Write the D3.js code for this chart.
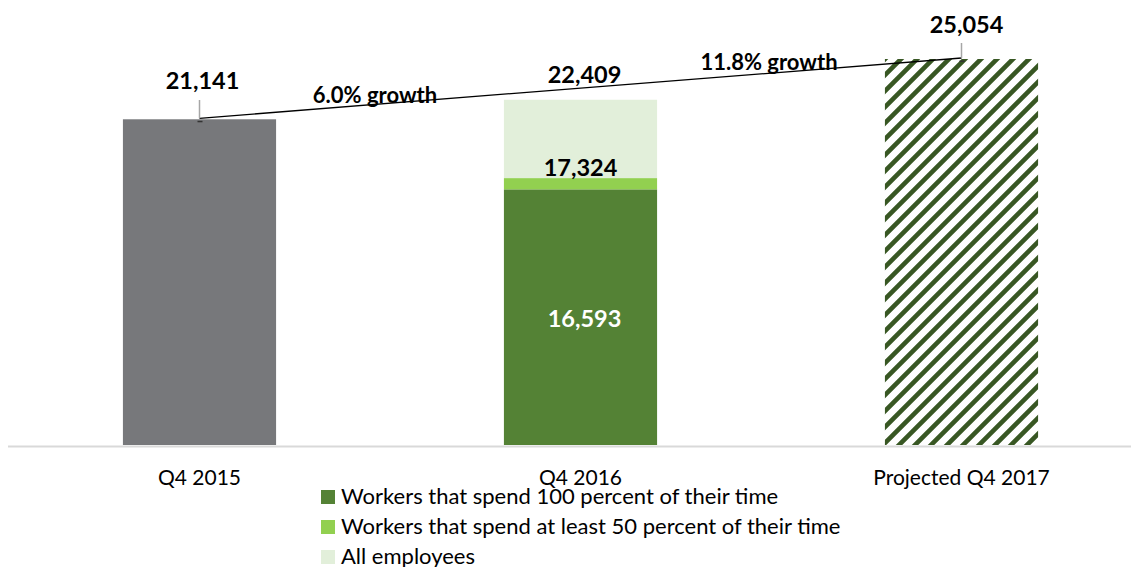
<!DOCTYPE html>
<html>
<head>
<meta charset="utf-8">
<script src="https://cdn.jsdelivr.net/npm/d3@7"></script>
<style>
  html, body { margin: 0; padding: 0; background: #ffffff; }
  svg { display: block; font-family: Lato, "Open Sans", sans-serif; }
</style>
</head>
<body>
<svg id="chart" width="1139" height="567"></svg>
<script>
// Headcount by quarter
const categories = ["Q4 2015", "Q4 2016", "Projected Q4 2017"];
const totalEmployees = [21141, 22409, 25054];
// Q4 2016 breakdown by share of time spent
const fullTimeWorkers = 16593;   // 100 percent of their time
const halfTimeWorkers = 17324;   // at least 50 percent of their time
const legendLabels = [
  "Workers that spend 100 percent of their time",
  "Workers that spend at least 50 percent of their time",
  "All employees"
];

const colors = {
  gray: "#77787b",
  dark: "#548235",
  mid: "#92d050",
  pale: "#e2efda",
  hatch: "#385723",
  axis: "#d9d9d9",
  leader: "#a6a6a6"
};

const svg = d3.select("#chart");
const baseY = 445;

const x = d3.scaleBand()
  .domain(categories)
  .range([9, 1152])
  .paddingInner(0.598)
  .paddingOuter(0.299);

const y = d3.scaleLinear()
  .domain([0, 25054])
  .range([baseY, 59]);

const cx = c => x(c) + x.bandwidth() / 2;

// Diagonal hatch for the projection
const defs = svg.append("defs");
const pat = defs.append("pattern")
  .attr("id", "hatch")
  .attr("patternUnits", "userSpaceOnUse")
  .attr("width", 16).attr("height", 16);
pat.append("rect").attr("width", 16).attr("height", 16).attr("fill", "#ffffff");
pat.append("path")
  .attr("d", "M-4,4 L4,-4 M0,16 L16,0 M12,20 L20,12")
  .attr("stroke", colors.hatch)
  .attr("stroke-width", 4.6);

// Baseline
svg.append("line")
  .attr("x1", 8).attr("x2", 1131)
  .attr("y1", baseY + 1.5).attr("y2", baseY + 1.5)
  .attr("stroke", colors.axis).attr("stroke-width", 2);

// Q4 2015 bar
svg.append("rect")
  .attr("x", x(categories[0])).attr("width", x.bandwidth())
  .attr("y", y(totalEmployees[0])).attr("height", baseY - y(totalEmployees[0]))
  .attr("fill", colors.gray);

// Q4 2016 stacked bar
const stack = [
  { lo: 0, hi: fullTimeWorkers, fill: colors.dark },
  { lo: fullTimeWorkers, hi: halfTimeWorkers, fill: colors.mid },
  { lo: halfTimeWorkers, hi: totalEmployees[1], fill: colors.pale }
];
svg.selectAll("rect.seg").data(stack).join("rect")
  .attr("class", "seg")
  .attr("x", x(categories[1])).attr("width", x.bandwidth())
  .attr("y", d => y(d.hi)).attr("height", d => y(d.lo) - y(d.hi))
  .attr("fill", d => d.fill);

// Projected bar
svg.append("rect")
  .attr("x", x(categories[2])).attr("width", x.bandwidth())
  .attr("y", y(totalEmployees[2])).attr("height", baseY - y(totalEmployees[2]))
  .attr("fill", "url(#hatch)");

// Trend line between first and last totals
const p0 = [cx(categories[0]), y(totalEmployees[0]) - 1];
const p2 = [cx(categories[2]), y(totalEmployees[2]) - 1];
svg.append("line")
  .attr("x1", p0[0]).attr("y1", p0[1]).attr("x2", p2[0]).attr("y2", p2[1])
  .attr("stroke", "#000").attr("stroke-width", 1.3);
[p0, p2].forEach(p => {
  svg.append("rect").attr("x", p[0] - 2).attr("y", p[1] + 2.5)
    .attr("width", 5).attr("height", 1.5).attr("fill", "#333");
});

// Leader lines from value labels
svg.append("line")
  .attr("x1", p0[0]).attr("x2", p0[0]).attr("y1", 100).attr("y2", p0[1])
  .attr("stroke", colors.leader).attr("stroke-width", 1.5);
svg.append("line")
  .attr("x1", p2[0]).attr("x2", p2[0]).attr("y1", 43).attr("y2", p2[1])
  .attr("stroke", colors.leader).attr("stroke-width", 1.5);

const fmt = d3.format(",");
const pct = d3.format(".1%");

// Value labels
const valueLabels = [
  { text: fmt(totalEmployees[0]), x: cx(categories[0]) + 3, y: 89, fill: "#000" },
  { text: fmt(totalEmployees[1]), x: cx(categories[1]) + 4, y: 83, fill: "#000" },
  { text: fmt(totalEmployees[2]), x: cx(categories[2]) + 5, y: 33, fill: "#000" },
  { text: fmt(halfTimeWorkers), x: cx(categories[1]), y: 176, fill: "#000" },
  { text: fmt(fullTimeWorkers), x: cx(categories[1]) + 4, y: 327, fill: "#fff" }
];
svg.selectAll("text.val").data(valueLabels).join("text")
  .attr("class", "val")
  .attr("x", d => d.x).attr("y", d => d.y)
  .attr("text-anchor", "middle")
  .attr("font-size", 23.5).attr("font-weight", 700)
  .attr("fill", d => d.fill)
  .text(d => d.text);

// Growth labels
const growth = [
  { text: pct(totalEmployees[1] / totalEmployees[0] - 1) + " growth", x: 375, y: 103 },
  { text: pct(totalEmployees[2] / totalEmployees[1] - 1) + " growth", x: 769, y: 70 }
];
svg.selectAll("text.growth").data(growth).join("text")
  .attr("class", "growth")
  .attr("x", d => d.x).attr("y", d => d.y)
  .attr("text-anchor", "middle")
  .attr("font-size", 22).attr("font-weight", 700)
  .attr("fill", "#000")
  .text(d => d.text);

// Category axis
const axis = svg.append("g")
  .attr("transform", `translate(0,${baseY})`)
  .call(d3.axisBottom(x).tickSize(0).tickPadding(0));
axis.select(".domain").remove();
axis.selectAll("text")
  .attr("y", 40)
  .attr("dy", 0)
  .attr("font-family", "Lato, sans-serif")
  .attr("font-size", 21)
  .attr("fill", "#000");

// Legend
const legendColors = [colors.dark, colors.mid, colors.pale];
const lg = svg.selectAll("g.leg").data(legendLabels).join("g")
  .attr("class", "leg")
  .attr("transform", (d, i) => `translate(321,${504 + i * 30})`);
lg.append("rect")
  .attr("x", 0).attr("y", -14).attr("width", 14).attr("height", 14)
  .attr("fill", (d, i) => legendColors[i]);
lg.append("text")
  .attr("x", 20).attr("y", 0)
  .attr("font-size", 22)
  .attr("fill", "#000")
  .text(d => d);
</script>
</body>
</html>
